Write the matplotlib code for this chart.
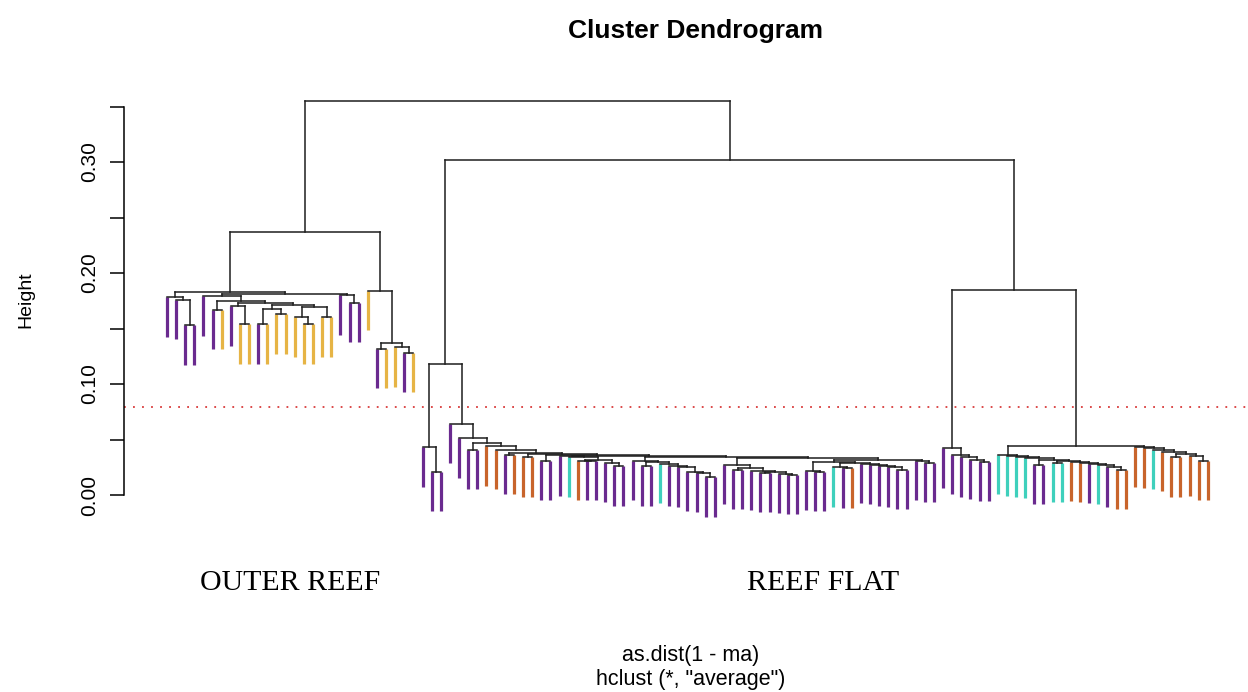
import numpy as np
import matplotlib
matplotlib.use('Agg')
import matplotlib.pyplot as plt

# leaf colour codes
colors = {'P': '#6a2a8f', 'Y': '#e6b445', 'O': '#c8642b', 'C': '#3fd0bc'}

# each node: (height, left, right); a leaf is a colour code
outer_a = (0.178, 'P', (0.176, 'P', (0.153, 'P', 'P')))
outer_b = (0.179, 'P', (0.175, (0.167, 'P', 'Y'),
                        (0.173, (0.170, 'P', (0.154, 'Y', 'Y')),
                         (0.171, (0.168, (0.154, 'P', 'Y'), (0.163, 'Y', 'Y')),
                          (0.169, (0.160, 'Y', (0.154, 'Y', 'Y')), (0.160, 'Y', 'Y'))))))
outer_c = (0.180, 'P', (0.173, 'P', 'P'))
outer_d = (0.184, 'Y', (0.137, (0.132, 'P', 'Y'), (0.133, 'Y', (0.128, 'P', 'Y'))))
outer = (0.237, (0.183, outer_a, (0.181, outer_b, outer_c)), outer_d)

flat_g1 = (0.043, 'P', (0.021, 'P', 'P'))
s1 = (0.035, 'P', (0.034, 'C', (0.032, (0.031, 'O', (0.031, 'P', 'P')),
                                (0.029, 'P', (0.026, 'P', 'P')))))
s2 = (0.031, 'P', (0.030, (0.026, 'P', 'P'),
                   (0.028, 'C', (0.026, 'P', (0.025, 'P', (0.021, 'P', (0.020, 'P', (0.016, 'P', 'P'))))))))
s3 = (0.027, 'P', (0.024, (0.023, 'P', 'P'),
                   (0.022, 'P', (0.021, (0.020, 'P', 'P'), (0.019, 'P', (0.018, 'P', 'P'))))))
s4 = (0.030, (0.022, 'P', (0.021, 'P', 'P')),
      (0.029, (0.025, 'C', (0.024, 'P', 'O')),
       (0.028, 'P', (0.027, 'P', (0.026, 'P', (0.025, 'P', (0.023, 'P', 'P')))))))
s5 = (0.031, 'P', (0.029, 'P', 'P'))
mid = (0.0355, s1, (0.034, s2, (0.033, s3, (0.032, s4, s5))))
chain = (0.064, 'P', (0.051, 'P', (0.047, (0.041, 'P', 'P'),
                                   (0.044, 'O', (0.041, 'O', (0.038, (0.036, 'P', 'O'),
                                    (0.037, (0.034, 'O', 'O'), (0.036, (0.031, 'P', 'P'), mid))))))))
flat_left = (0.118, flat_g1, chain)

flat_r1 = (0.042, 'P', (0.036, 'P', (0.034, 'P', (0.032, 'P', (0.030, 'P', 'P')))))
flat_r2 = (0.036, 'C', (0.035, 'C', (0.034, 'C', (0.033, 'C', (0.032, (0.027, 'P', 'P'),
           (0.031, (0.029, 'C', 'C'), (0.030, 'O', (0.029, 'O', (0.028, 'P', (0.027, 'C',
            (0.025, 'P', (0.023, 'O', 'O'))))))))))))
flat_r3 = (0.043, 'O', (0.042, 'O', (0.041, 'C', (0.039, 'O', (0.037, (0.034, 'O', 'O'),
                                                               (0.035, 'O', (0.031, 'O', 'O')))))))
flat_right = (0.185, flat_r1, (0.044, flat_r2, flat_r3))

tree = (0.355, outer, (0.302, flat_left, flat_right))
cut_height = 0.079
hang = 0.1 * tree[0]

fig = plt.figure(figsize=(12.48, 6.92), dpi=100)
ax = fig.add_axes([124 / 1248, 152 / 692, 1 - 124 / 1248, 460 / 692])

counter = [0]


def draw(node):
    # returns (x, height) of the node, drawing the edges below it
    if isinstance(node, str):
        counter[0] += 1
        return counter[0], None
    h, left, right = node
    out = []
    for child in (left, right):
        x, ch = draw(child)
        if ch is None:
            ax.plot([x, x], [h, h - hang], color=colors[child], lw=2.3,
                    solid_capstyle='butt', zorder=2)
        else:
            ax.plot([x, x], [h, ch], color='#1e1e1e', lw=1.1, zorder=3)
        out.append(x)
    ax.plot(out, [h, h], color='#1e1e1e', lw=1.1, zorder=3)
    return (out[0] + out[1]) / 2, h


draw(tree)

ax.set_xlim(-3.70, 119.4)
ax.set_ylim(-0.0405, 0.3739)
ax.axhline(cut_height, color='#d93a3a', lw=1.3, ls=(0, (1, 4)), zorder=1)

for s in ['top', 'right', 'bottom']:
    ax.spines[s].set_visible(False)
ax.spines['left'].set_bounds(0, 0.35)
ax.spines['left'].set_linewidth(1.1)
ax.set_xticks([])
ax.set_yticks([0, 0.1, 0.2, 0.3])
ax.set_yticklabels(['0.00', '0.10', '0.20', '0.30'], rotation=90, va='center',
                   fontsize=15, family='Liberation Sans')
ax.set_yticks(np.arange(0.05, 0.36, 0.1), minor=True)
ax.tick_params(axis='y', which='both', length=10, width=1.1, pad=8)

fig.text(696 / 1248, 0.955, 'Cluster Dendrogram', ha='center', va='center',
         fontsize=19, fontweight='bold', family='Liberation Sans')
fig.text(26 / 1248, 1 - 300 / 692, 'Height', rotation=90, ha='center', va='center',
         fontsize=14, family='Liberation Sans')
fig.text(290 / 1248, 1 - 583 / 692, 'OUTER REEF', ha='center', va='center',
         fontsize=21.5, family='Liberation Serif')
fig.text(823 / 1248, 1 - 583 / 692, 'REEF FLAT', ha='center', va='center',
         fontsize=21.5, family='Liberation Serif')
fig.text(691 / 1248, 1 - 655 / 692, 'as.dist(1 - ma)', ha='center', va='center',
         fontsize=15.5, family='Liberation Sans')
fig.text(691 / 1248, 1 - 680 / 692, 'hclust (*, "average")', ha='center', va='center',
         fontsize=15.5, family='Liberation Sans')

fig.savefig('out.png', dpi=100)
